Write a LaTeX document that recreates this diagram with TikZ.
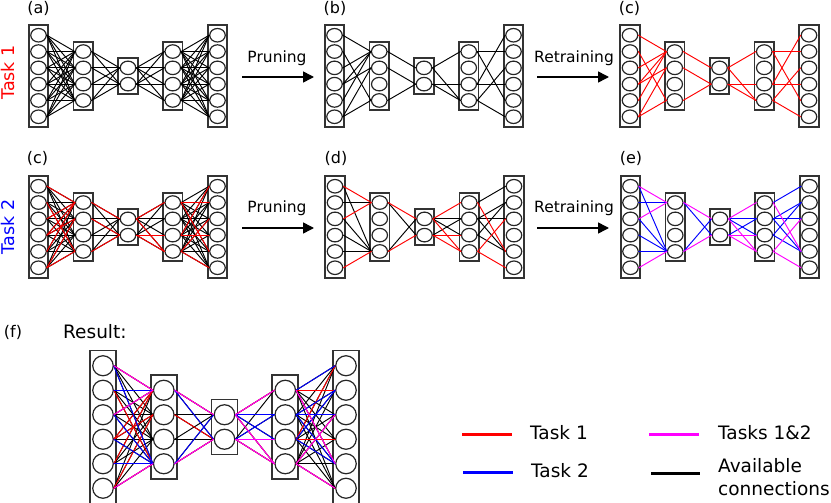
\documentclass[tikz,border=0pt]{standalone}
\usepackage{fontspec}
\setmainfont{DejaVu Sans}
\usetikzlibrary{shapes.geometric,arrows.meta}
\definecolor{tred}{RGB}{255,0,0}
\definecolor{tblue}{RGB}{0,0,255}
\definecolor{tmag}{RGB}{255,0,255}
\tikzset{
  layerbox/.style={draw=black!80, line width=1.8pt, inner sep=0pt},
  neuron/.style={ellipse, draw=black!85, line width=1.2pt, inner sep=0pt},
  cn/.style={line width=0.95pt, line cap=round},
  panel/.style={font=\fontsize{16}{19}\selectfont, inner sep=0pt},
  steplbl/.style={font=\fontsize{15.5}{18}\selectfont, inner sep=0pt},
  tasklbl/.style={font=\fontsize{17.5}{20}\selectfont, inner sep=0pt, rotate=90},
  legtxt/.style={font=\fontsize{18.5}{23}\selectfont, inner sep=0pt, anchor=west, align=left},
  legline/.style={line width=3pt},
  bigarrow/.style={line width=1.5pt, -{Triangle[length=11pt,width=11pt]}}
}
% #1 name, #2 x of first layer, #3 y centre, #4 layer step, #5 node step,
% #6 neuron width, #7 neuron height, #8 box width, #9 box padding
\newcommand{\drawnet}[9]{%
  \foreach \la/\nn in {1/6,2/4,3/2,4/4,5/6} {%
    \pgfmathsetmacro{\bx}{#2+(\la-1)*#4}%
    \pgfmathsetmacro{\bh}{\nn*#5+#9}%
    \node[layerbox, minimum width=#8, minimum height=\bh] (#1b\la) at (\bx,#3) {};%
    \foreach \kk in {1,...,\nn} {%
      \pgfmathsetmacro{\by}{#3+(\kk-(\nn+1)/2)*#5}%
      \node[neuron, minimum width=#6, minimum height=#7] (#1-\la-\kk) at (\bx,\by) {};%
    }%
  }%
}
\newcommand{\conn}[5]{%
  \foreach \ua/\ub in {#5} {\draw[cn,#4] (#1-#2-\ua.east) -- (#1-#3-\ub.west);}%
}
\newcommand{\fullnet}[2]{%
  \foreach \ua in {1,...,6}{\foreach \ub in {1,...,4}{%
    \draw[cn,#2] (#1-1-\ua.east) -- (#1-2-\ub.west);
    \draw[cn,#2] (#1-4-\ub.east) -- (#1-5-\ua.west);}}%
  \foreach \ua in {1,...,4}{\foreach \ub in {1,2}{%
    \draw[cn,#2] (#1-2-\ua.east) -- (#1-3-\ub.west);
    \draw[cn,#2] (#1-3-\ub.east) -- (#1-4-\ua.west);}}%
}
\newcommand{\taskone}[2]{%
  \conn{#1}{1}{2}{#2}{1/1,2/4,3/1,4/1,4/2,5/1,6/2,6/4}%
  \conn{#1}{2}{3}{#2}{1/1,2/2,4/2}%
  \conn{#1}{3}{4}{#2}{1/1,1/4,2/3,2/4}%
  \conn{#1}{4}{5}{#2}{1/2,1/5,3/1,3/4,4/3,4/6}%
}
\newcommand{\taskshared}[2]{%
  \conn{#1}{1}{2}{#2}{1/1,3/1,6/4}%
  \conn{#1}{2}{3}{#2}{1/1,4/2}%
  \conn{#1}{3}{4}{#2}{1/1,1/4,2/3,2/4}%
  \conn{#1}{4}{5}{#2}{1/5,4/3,4/6}%
}
\newcommand{\tasknew}[2]{%
  \conn{#1}{1}{2}{#2}{1/4,2/1,3/4,4/4,5/4}%
  \conn{#1}{2}{3}{#2}{1/2,4/1}%
  \conn{#1}{3}{4}{#2}{1/2,1/3,2/2}%
  \conn{#1}{4}{5}{#2}{1/1,2/2,2/3,2/5,3/2,3/5}%
}
\begin{document}
\begin{tikzpicture}[x=1pt,y=-1pt]
\useasboundingbox (0,0) rectangle (831,503);
% networks
\drawnet{A}{38.5}{76}{44.75}{16.3}{15.5}{13.5}{19.5}{3.5}
\drawnet{B}{334.5}{76}{44.75}{16.3}{15.5}{13.5}{19.5}{3.5}
\drawnet{C}{630}{76}{44.75}{16.3}{15.5}{13.5}{19.5}{3.5}
\drawnet{P}{38.5}{227}{44.75}{16.3}{15.5}{13.5}{19.5}{3.5}
\drawnet{D}{335}{227}{44.75}{16.3}{15.5}{13.5}{19.5}{3.5}
\drawnet{E}{630.5}{227}{44.75}{16.3}{15.5}{13.5}{19.5}{3.5}
\drawnet{F}{103}{427}{60.75}{24.5}{20.5}{20}{26}{6}
% connections
\fullnet{A}{black}
\taskone{B}{black}
\taskone{C}{tred}
\fullnet{P}{black}
\taskone{P}{tred}
\tasknew{D}{black}
\taskshared{D}{tred}
\tasknew{E}{tblue}
\taskshared{E}{tmag}
\fullnet{F}{black}
\taskone{F}{tred}
\tasknew{F}{tblue}
\taskshared{F}{tmag}
% panel labels
\node[panel] (la) at (38.5,8) {(a)};
\node[panel] (lb) at (335,8) {(b)};
\node[panel] (lc) at (629.5,8) {(c)};
\node[panel] (lc2) at (37.5,158) {(c)};
\node[panel] (ld) at (336,158) {(d)};
\node[panel] (le) at (631,158) {(e)};
\node[panel] (lf) at (13,332) {(f)};
\node[legtxt] (res) at (63,332) {Result:};
% task labels
\node[tasklbl, text=tred] (t1) at (8,72.5) {Task 1};
\node[tasklbl, text=tblue] (t2) at (8,227) {Task 2};
% arrows
\coordinate (a1s) at (242,77); \coordinate (a1e) at (314,77);
\coordinate (a2s) at (537,77); \coordinate (a2e) at (609,77);
\coordinate (a3s) at (242,228); \coordinate (a3e) at (314,228);
\coordinate (a4s) at (537,228); \coordinate (a4e) at (609,228);
\draw[bigarrow] (a1s) -- (a1e);
\draw[bigarrow] (a2s) -- (a2e);
\draw[bigarrow] (a3s) -- (a3e);
\draw[bigarrow] (a4s) -- (a4e);
\node[steplbl] (s1) at (277,58) {Pruning};
\node[steplbl] (s2) at (574,58) {Retraining};
\node[steplbl] (s3) at (277,208) {Pruning};
\node[steplbl] (s4) at (574,208) {Retraining};
% legend
\coordinate (g1s) at (462,434); \coordinate (g1e) at (512,434);
\coordinate (g2s) at (463,472); \coordinate (g2e) at (513,472);
\coordinate (g3s) at (649,434); \coordinate (g3e) at (699,434);
\coordinate (g4s) at (651,473); \coordinate (g4e) at (700,473);
\draw[legline, tred] (g1s) -- (g1e);
\draw[legline, tblue] (g2s) -- (g2e);
\draw[legline, tmag] (g3s) -- (g3e);
\draw[legline, black] (g4s) -- (g4e);
\node[legtxt] (lt1) at (530,433) {Task 1};
\node[legtxt] (lt2) at (531,471) {Task 2};
\node[legtxt] (lt3) at (718,433) {Tasks 1\&2};
\node[legtxt] (lt4) at (718,477) {Available\\connections};
\end{tikzpicture}
\end{document}
